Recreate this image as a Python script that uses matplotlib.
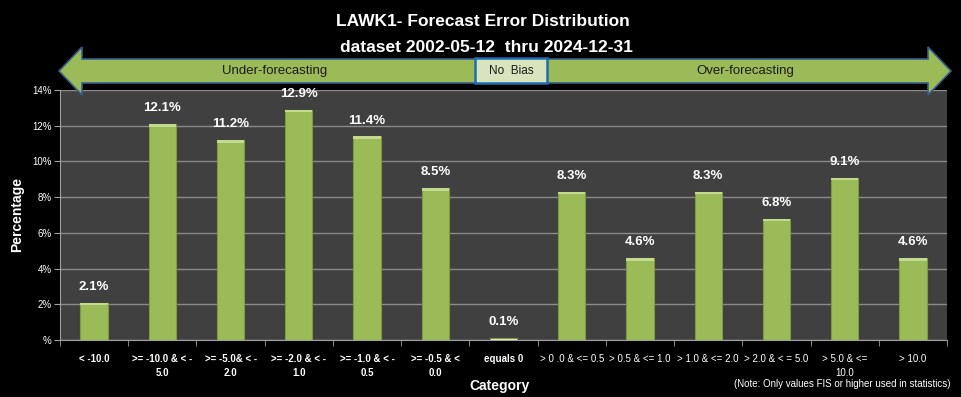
import matplotlib.pyplot as plt
from matplotlib.patches import Polygon, Rectangle
import numpy as np

plt.rcParams['font.family'] = ['Liberation Sans', 'DejaVu Sans']

categories = ['< -10.0', '>= -10.0 & < -\n5.0', '>= -5.0& < -\n2.0', '>= -2.0 & < -\n1.0',
              '>= -1.0 & < -\n0.5', '>= -0.5 & <\n0.0', 'equals 0', '> 0 .0 & <= 0.5',
              '> 0.5 & <= 1.0', '> 1.0 & <= 2.0', '> 2.0 & < = 5.0', '> 5.0 & <=\n10.0', '> 10.0']
values = [2.1, 12.1, 11.2, 12.9, 11.4, 8.5, 0.1, 8.3, 4.6, 8.3, 6.8, 9.1, 4.6]
yticks = [0, 2, 4, 6, 8, 10, 12, 14]
ytick_labels = ['%', '2%', '4%', '6%', '8%', '10%', '12%', '14%']

W, H = 961, 397
fig = plt.figure(figsize=(W / 100, H / 100), dpi=100, facecolor='black')

def px(x, y):
    return (x / W, 1 - y / H)

ax = fig.add_axes([60 / W, 1 - 340 / H, (947 - 60) / W, (340 - 90) / H])
ax.set_facecolor('#404040')

x = np.arange(len(values))
colors = ['#9bbb59'] * len(values)
colors[6] = '#e6ecd6'
ax.bar(x, values, width=0.4, color=colors, edgecolor='#7d9a3e', linewidth=0.8, zorder=3)
# light top bevel
ax.bar(x, [0.15 if v > 0.3 else 0 for v in values], bottom=[v - 0.15 for v in values],
       width=0.4, color='#c3d98f', linewidth=0, zorder=4)

for xi, v in zip(x, values):
    ax.text(xi, v + 0.55, f'{v:.1f}%', ha='center', va='bottom', color='white',
            fontsize=9.5, fontweight='bold', zorder=5)

ax.set_xlim(-0.5, len(values) - 0.5)
ax.set_ylim(0, 14)
ax.set_yticks(yticks)
ax.set_yticklabels(ytick_labels, color='white', fontsize=7)
ax.yaxis.grid(True, color='#8a8a8a', linewidth=1, zorder=0)
ax.set_axisbelow(True)

ax.set_xticks(x)
ax.set_xticklabels(categories, fontsize=7, color='white', linespacing=1.5)
for i, lab in enumerate(ax.get_xticklabels()):
    if i <= 6:
        lab.set_fontweight('bold')
ax.set_xticks(np.arange(len(values) + 1) - 0.5, minor=True)
ax.tick_params(axis='x', which='major', length=0, pad=10)
ax.tick_params(axis='x', which='minor', length=4, color='#a0a0a0', direction='out')
ax.tick_params(axis='y', length=4, color='#a0a0a0', direction='out', pad=2)

for s in ['top', 'right']:
    ax.spines[s].set_visible(False)
for s in ['left', 'bottom']:
    ax.spines[s].set_color('#a0a0a0')

ax.set_ylabel('Percentage', color='white', fontsize=10, fontweight='bold', labelpad=6)
fig.text(*px(500, 386), 'Category', color='white', fontsize=10, fontweight='bold',
         ha='center', va='center')
fig.text(*px(950, 384), '(Note: Only values FIS or higher used in statistics)', color='white',
         fontsize=7, ha='right', va='center')

fig.text(*px(483, 22), 'LAWK1- Forecast Error Distribution', color='white', fontsize=12.5,
         fontweight='bold', ha='center', va='center')
fig.text(*px(486, 47), 'dataset 2002-05-12  thru 2024-12-31', color='white', fontsize=12.5,
         fontweight='bold', ha='center', va='center')

arrow_pts = [(59, 71), (82, 47), (82, 59), (928, 59), (928, 47), (951, 71),
             (928, 95), (928, 83), (82, 83), (82, 95)]
fig.patches.append(Polygon([px(a, b) for a, b in arrow_pts], closed=True,
                           transform=fig.transFigure, facecolor='#9bbb59',
                           edgecolor='#385d8a', linewidth=1.2, zorder=10))
bx0, by0 = px(475, 83)
bx1, by1 = px(547, 58)
fig.patches.append(Rectangle((bx0, by0), bx1 - bx0, by1 - by0, transform=fig.transFigure,
                             facecolor='#d7e4bd', edgecolor='#1f6bb0', linewidth=1.8, zorder=11))
fig.text(*px(275, 71), 'Under-forecasting', fontsize=9.5, color='#1a1a1a',
         ha='center', va='center', zorder=12)
fig.text(*px(511, 71), 'No  Bias', fontsize=8.5, color='#1a1a1a',
         ha='center', va='center', zorder=12)
fig.text(*px(745, 71), 'Over-forecasting', fontsize=9.5, color='#1a1a1a',
         ha='center', va='center', zorder=12)

fig.savefig('out.png', dpi=100, facecolor='black')
